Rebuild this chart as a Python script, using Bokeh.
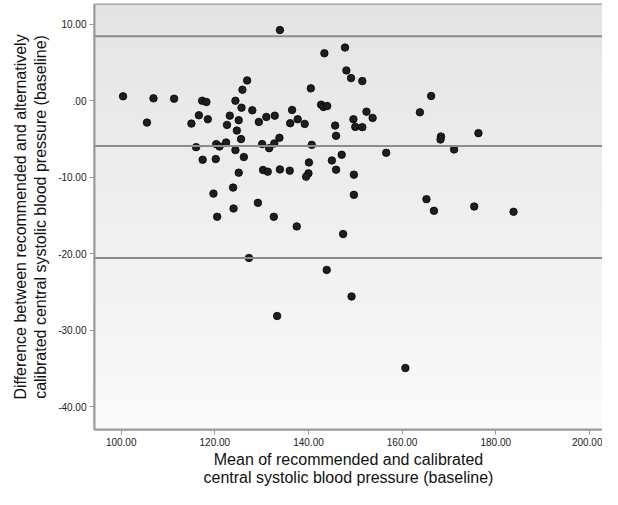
import numpy as np
from bokeh.plotting import figure
from bokeh.models import FixedTicker, Span, Range1d
from bokeh.embed import file_html
from bokeh.resources import INLINE

# --- data ---
mean_bp = [133.9, 100.4, 106.9, 111.3, 105.5, 117.3, 118.2, 116.6, 115.0, 118.5,
           116.0, 117.4, 120.2, 120.3, 121.0, 122.4, 119.7, 120.5, 123.9, 124.0,
           125.1, 124.4, 126.2, 125.6, 124.7, 122.6, 123.2, 125.1, 124.4, 125.7,
           125.9, 126.9, 128.0, 129.4, 131.0, 132.8, 130.1, 131.6, 132.7, 133.8,
           130.3, 131.3, 133.9, 136.0, 129.2, 132.6, 136.5, 136.1, 137.7, 139.2,
           140.5, 140.7, 140.1, 140.0, 139.5, 142.7, 143.2, 144.0, 143.4, 145.7,
           145.9, 145.0, 145.9, 147.1, 147.8, 148.1, 149.1, 151.5, 166.2, 163.8,
           152.4, 153.7, 149.6, 150.0, 151.5, 168.3, 168.2, 171.1, 176.3, 156.6,
           149.7, 149.7, 165.2, 166.8, 175.4, 183.8, 137.5, 147.4, 127.3, 143.9,
           149.2, 133.3, 160.7]
diff_bp = [9.26, 0.59, 0.32, 0.28, -2.85, 0.01, -0.16, -1.89, -2.98, -2.41,
           -6.06, -7.71, -7.62, -5.67, -5.97, -5.45, -12.14, -15.17, -11.35, -14.09,
           -9.40, -6.45, -7.36, -5.01, -3.89, -3.15, -1.94, -2.54, 0.01, -0.90,
           1.45, 2.67, -1.24, -2.76, -2.11, -1.94, -5.66, -6.19, -5.58, -4.84,
           -9.05, -9.27, -8.97, -9.14, -13.35, -15.17, -1.20, -2.93, -2.41, -3.02,
           1.63, -5.76, -8.06, -9.49, -9.92, -0.50, -0.80, -0.68, 6.22, -3.24,
           -4.58, -7.80, -9.01, -7.06, 6.97, 3.97, 2.97, 2.58, 0.63, -1.50,
           -1.42, -2.24, -2.41, -3.41, -3.45, -4.67, -5.06, -6.36, -4.23, -6.80,
           -9.66, -12.30, -12.87, -14.39, -13.83, -14.52, -16.43, -17.43, -20.56, -22.12,
           -25.60, -28.15, -34.96]

mean_difference = -5.9
upper_limit = 8.44
lower_limit = -20.56

x_ticks = [100, 120, 140, 160, 180, 200]
x_tick_labels = ["100.00", "120.00", "140.00", "160.00", "180.00", "200.00"]
y_ticks = [-40, -30, -20, -10, 0, 10]
y_tick_labels = ["-40.00", "-30.00", "-20.00", "-10.00", ".00", "10.00"]

x_label = "Mean of recommended and calibrated\ncentral systolic blood pressure (baseline)"
y_label = "Difference between recommended and alternatively\ncalibrated central systolic blood pressure (baseline)"

x0, x1 = 94.3, 202.8
y0, y1 = -43.0, 12.6

FONT = "Liberation Sans"

p = figure(width=602, height=489, output_backend="svg", toolbar_location=None,
           x_range=Range1d(x0, x1), y_range=Range1d(y0, y1),
           min_border_left=94, min_border_right=0, min_border_top=4,
           min_border_bottom=56)
p.background_fill_color = "#f2f2f2"
p.border_fill_color = "white"
p.grid.visible = False
p.outline_line_color = "#9a9a9a"
p.outline_line_width = 2

# subtle vertical gradient background inside the frame
n = 256
grad = np.zeros((n, 1), dtype=np.uint32)
view = grad.view(dtype=np.uint8).reshape((n, 1, 4))
for i in range(n):
    t = i / (n - 1)
    c = int(round(250 - (250 - 228) * t))
    view[i, 0, :] = [c, c, c, 255]
p.image_rgba(image=[grad], x=x0, y=y0, dw=x1 - x0, dh=y1 - y0, level="image")

for loc in (upper_limit, mean_difference, lower_limit):
    p.add_layout(Span(location=loc, dimension="width", line_color="#8c8c8c",
                      line_width=2))

p.scatter(mean_bp, diff_bp, size=7.5, fill_color="#1e1e1e", line_color="#000000",
          line_width=0.8)

for ax in (p.xaxis[0], p.yaxis[0]):
    ax.axis_line_color = "#9a9a9a"
    ax.axis_line_width = 2
    ax.major_tick_line_color = "#9a9a9a"
    ax.major_tick_in = 0
    ax.major_tick_out = 5
    ax.minor_tick_line_color = None
    ax.major_label_text_font = FONT
    ax.major_label_text_font_size = "10px"
    ax.major_label_text_color = "#222222"
    ax.axis_label_text_font = FONT
    ax.axis_label_text_font_size = "16px"
    ax.axis_label_text_font_style = "normal"
    ax.axis_label_text_color = "#111111"
    ax.major_label_standoff = 3

p.xaxis.ticker = FixedTicker(ticks=x_ticks)
p.xaxis.major_label_overrides = dict(zip(x_ticks, x_tick_labels))
p.yaxis.ticker = FixedTicker(ticks=y_ticks)
p.yaxis.major_label_overrides = dict(zip(y_ticks, y_tick_labels))
p.xaxis.axis_label = x_label
p.yaxis.axis_label = y_label
p.xaxis.axis_label_standoff = 2
p.xaxis.axis_label_text_line_height = 1.1
p.yaxis.axis_label_standoff = 6

open("out.html", "w").write(file_html(p, INLINE))
